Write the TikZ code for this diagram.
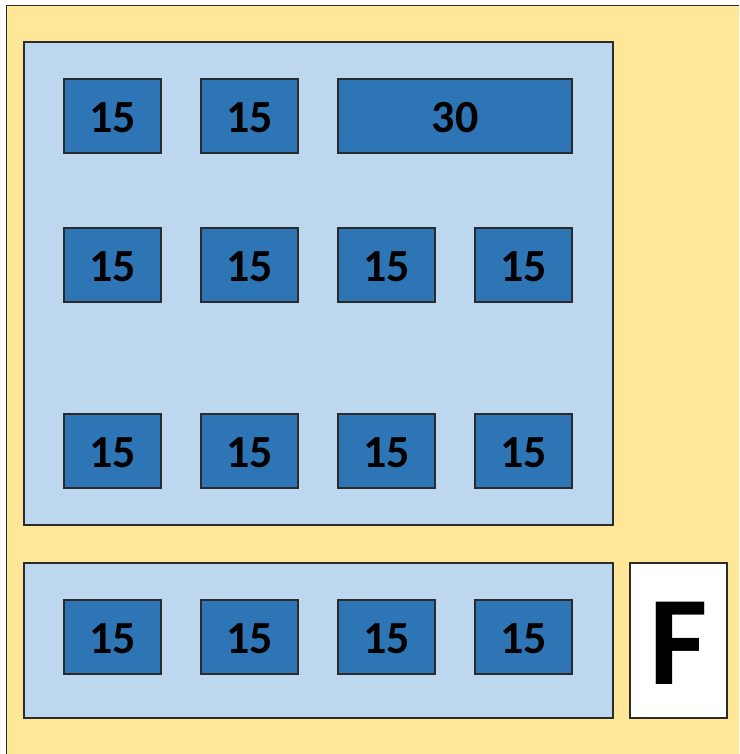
\documentclass[tikz,border=0pt]{standalone}
\usepackage{fontspec}
\setmainfont{Carlito}
\definecolor{bgyellow}{HTML}{FFE699}
\definecolor{panelblue}{HTML}{BDD7EE}
\definecolor{tableblue}{HTML}{2E75B6}
\definecolor{edge}{HTML}{2B2B2B}
\newcommand{\seat}[1]{\raisebox{-16.5pt}[0pt][0pt]{#1}}
\begin{document}
\begin{tikzpicture}[x=1pt,y=-1pt,
  panel/.style={draw=edge,line width=1.2pt,fill=panelblue},
  tablebox/.style={draw=edge,line width=1.1pt,fill=tableblue,font=\fontsize{46}{50}\selectfont\bfseries,text=black,minimum height=74pt,inner sep=0pt},
  fbox/.style={draw=edge,line width=1.2pt,fill=white,font=\fontsize{127}{132}\selectfont\bfseries,text=black}]
\useasboundingbox (0,0) rectangle (739,754);
\fill[white] (0,0) rectangle (739,754);
\filldraw[fill=bgyellow,draw=edge,line width=1.5pt] (739,5.5) -- (6.5,5.5) -- (6.5,754);
\fill[bgyellow] (7.2,6.2) rectangle (739,754);
\node[panel,minimum width=589pt,minimum height=483pt,inner sep=0pt] (top) at (318.5,283.5) {};
\node[panel,minimum width=589pt,minimum height=155pt,inner sep=0pt] (bottom) at (318.5,640.5) {};
\node[fbox,minimum width=97pt,minimum height=155pt,inner sep=0pt] (F) at (678.5,640.5) {\raisebox{-44pt}[0pt][0pt]{F}};
% row 1
\node[tablebox,minimum width=97pt] (a1) at (112.5,116) {\seat{15}};
\node[tablebox,minimum width=97pt] (a2) at (249.5,116) {\seat{15}};
\node[tablebox,minimum width=234pt] (a3) at (455,116) {\seat{30}};
% row 2
\foreach \n/\x in {b1/112.5,b2/249.5,b3/386.5,b4/523.5}
  \node[tablebox,minimum width=97pt] (\n) at (\x,265) {\seat{15}};
% row 3
\foreach \n/\x in {c1/112.5,c2/249.5,c3/386.5,c4/523.5}
  \node[tablebox,minimum width=97pt] (\n) at (\x,451) {\seat{15}};
% row 4
\foreach \n/\x in {d1/112.5,d2/249.5,d3/386.5,d4/523.5}
  \node[tablebox,minimum width=97pt] (\n) at (\x,637) {\seat{15}};
\end{tikzpicture}
\end{document}
